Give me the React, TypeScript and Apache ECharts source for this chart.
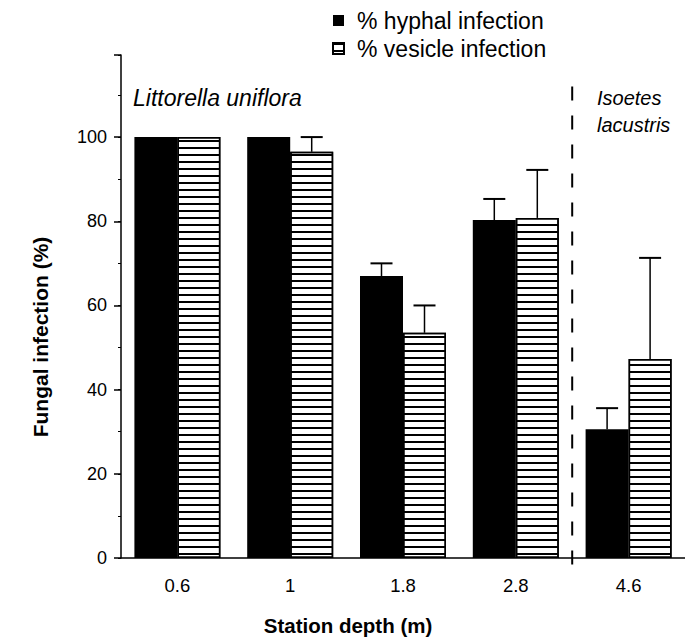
import React, { useEffect, useRef } from "react";
import * as echarts from "echarts";

const categories = ["0.6", "1", "1.8", "2.8", "4.6"];
const hyphal = [100, 100, 67, 80.3, 30.6];
const hyphalErr = [0, 0, 3, 5, 5];
const vesicle = [100, 96.5, 53.5, 80.8, 47.3];
const vesicleErr = [0, 3.5, 6.5, 11.4, 24];
const yMajorTicks = [0, 20, 40, 60, 80, 100];

const FONT = "Liberation Sans";
const BAR_W = 43;

function errSeries(name: string, vals: number[], errs: number[], offset: number) {
  return {
    name,
    type: "custom",
    yAxisIndex: 0,
    z: 5,
    data: categories.map((c, i) => [i, vals[i], errs[i]]),
    encode: { x: 0, y: 1 },
    renderItem: (params: any, api: any) => {
      const x = api.value(0);
      const v = api.value(1);
      const e = api.value(2);
      if (!e) return null;
      const base = api.coord([x, v]);
      const top = api.coord([x, v + e]);
      const cx = base[0] + offset;
      return {
        type: "group",
        children: [
          { type: "line", shape: { x1: cx, y1: base[1], x2: cx, y2: top[1] }, style: { stroke: "#000", lineWidth: 1.5 } },
          { type: "line", shape: { x1: cx - 11, y1: top[1], x2: cx + 11, y2: top[1] }, style: { stroke: "#000", lineWidth: 2 } },
        ],
      };
    },
  };
}

export default function App() {
  const ref = useRef<HTMLDivElement>(null);
  useEffect(() => {
    if (!ref.current) return;
    const chart = echarts.init(ref.current, null, { renderer: "svg" });
    const texts: any[] = [
      { id: "t1", type: "text", x: 133, y: 98, style: { text: "Littorella uniflora", font: `italic 23px "${FONT}"`, fill: "#000", verticalAlign: "middle" } },
      { id: "t2", type: "text", x: 597, y: 98, style: { text: "Isoetes", font: `italic 20px "${FONT}"`, fill: "#000", verticalAlign: "middle" } },
      { id: "t3", type: "text", x: 597, y: 125, style: { text: "lacustris", font: `italic 20px "${FONT}"`, fill: "#000", verticalAlign: "middle" } },
      { id: "t4", type: "text", x: 40, y: 337, rotation: Math.PI / 2, style: { text: "Fungal infection (%)", font: `bold 21px "${FONT}"`, fill: "#000", align: "center", verticalAlign: "middle" } },
      { id: "t5", type: "text", x: 348, y: 625, style: { text: "Station depth (m)", font: `bold 20.5px "${FONT}"`, fill: "#000", align: "center", verticalAlign: "middle" } },
    ];
    chart.setOption({
      animation: false,
      backgroundColor: "#fff",
      textStyle: { fontFamily: FONT },
      grid: { left: 121, top: 55, bottom: 85, width: 566 },
      legend: {
        orient: "vertical",
        left: 327,
        top: 4,
        itemWidth: 11,
        itemHeight: 11,
        itemGap: 5,
        icon: "rect",
        data: ["% hyphal infection", "% vesicle infection"],
        textStyle: { fontSize: 23, color: "#000", fontFamily: FONT, padding: [0, 0, 0, 8] },
      },
      xAxis: {
        type: "category",
        data: categories,
        axisLine: { lineStyle: { color: "#000", width: 1.5 } },
        axisTick: { length: 5, lineStyle: { color: "#000", width: 1.5 } },
        axisLabel: { fontSize: 18.5, color: "#000", margin: 18 },
      },
      yAxis: [
        {
          type: "value",
          min: 0,
          max: 119.5,
          interval: 10,
          axisLine: { show: true, lineStyle: { color: "#000", width: 1.5 } },
          axisTick: { show: true, length: 3, lineStyle: { color: "#000", width: 1 } },
          axisLabel: { show: false },
          splitLine: { show: false },
        },
        {
          type: "value",
          position: "left",
          min: 0,
          max: 119.5,
          interval: 20,
          axisLine: { show: false },
          axisTick: { show: true, length: 7, lineStyle: { color: "#000", width: 1.5 } },
          axisLabel: { fontSize: 18, color: "#000", margin: 14, formatter: (v: number) => (yMajorTicks.includes(v) ? String(v) : "") },
          splitLine: { show: false },
        },
      ],
      series: [
        {
          name: "% hyphal infection",
          type: "bar",
          yAxisIndex: 0,
          data: hyphal,
          barWidth: BAR_W,
          barGap: "0%",
          itemStyle: { color: "#000" },
        },
        {
          name: "% vesicle infection",
          type: "bar",
          yAxisIndex: 0,
          data: vesicle,
          barWidth: BAR_W,
          barGap: "0%",
          itemStyle: {
            color: "#fff",
            borderColor: "#000",
            borderWidth: 1.5,
            decal: { symbol: "rect", symbolSize: 1, dashArrayX: [1, 0], dashArrayY: [2, 4.7], rotation: 0, color: "#000" },
          },
        },
        errSeries("errH", hyphal, hyphalErr, -BAR_W / 2),
        errSeries("errV", vesicle, vesicleErr, BAR_W / 2),
      ],
      graphic: texts,
    });
    const x3 = chart.convertToPixel({ xAxisIndex: 0 }, 3) as number;
    const x4 = chart.convertToPixel({ xAxisIndex: 0 }, 4) as number;
    const sx = (x3 + x4) / 2;
    const yTop = chart.convertToPixel({ yAxisIndex: 0 }, 112) as number;
    const yBot = (chart.convertToPixel({ yAxisIndex: 0 }, 0) as number) + 17;
    chart.setOption({
      graphic: [
        ...texts,
        { id: "sep", type: "line", shape: { x1: sx, y1: yTop, x2: sx, y2: yBot }, style: { stroke: "#000", lineWidth: 2, lineDash: [14, 15] } },
      ],
    });
    return () => chart.dispose();
  }, []);
  return <div ref={ref} style={{ position: "absolute", left: 0, top: 0, width: 685, height: 643 }} />;
}
